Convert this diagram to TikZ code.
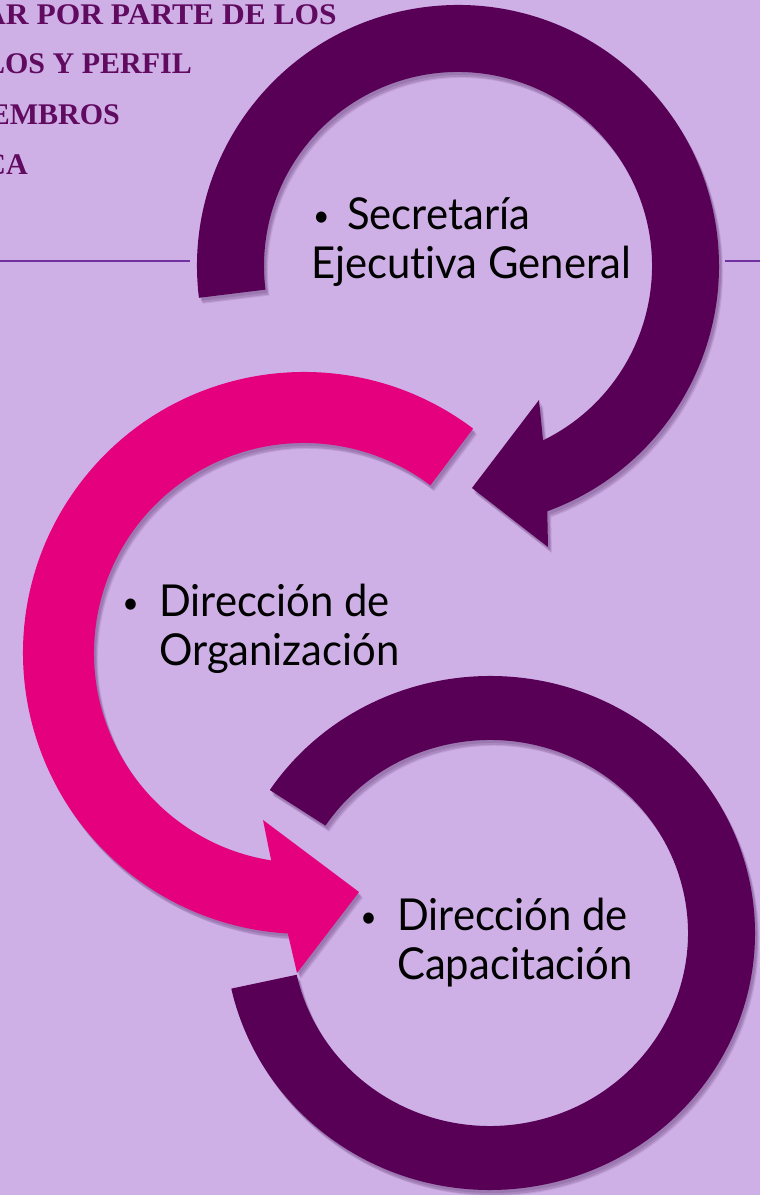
\documentclass[tikz,border=0pt]{standalone}
\usepackage{fontspec}
\usepackage{graphicx}
\usetikzlibrary{calc}
\setmainfont{Lato}[Ligatures=NoCommon]
\newfontfamily\headfont{Liberation Serif}
\definecolor{bgc}{RGB}{207,176,230}
\definecolor{dpurple}{RGB}{88,0,85}
\definecolor{pinkc}{RGB}{229,0,125}
\definecolor{linec}{RGB}{112,48,160}
\definecolor{headc}{RGB}{96,10,96}
\definecolor{shadowc}{RGB}{110,70,130}
\newcommand{\smallbul}{\raisebox{3pt}{\scalebox{0.68}{\textbullet}}}
\newcommand{\bul}{\llap{\makebox[60pt]{\smallbul}}}
\tikzset{
  arcshadow/.style={
    preaction={fill=shadowc, fill opacity=0.25, transform canvas={shift={(2pt,-3pt)}}},
    preaction={fill=shadowc, fill opacity=0.25, transform canvas={shift={(3pt,-5pt)}}},
    preaction={fill=shadowc, fill opacity=0.15, transform canvas={shift={(4pt,-6pt)}}}},
  darcfill/.style={arcshadow, fill=dpurple},
  parcfill/.style={arcshadow, fill=pinkc},
  hline/.style={draw=linec, line width=1.8pt},
  head/.style={anchor=base east, inner sep=0pt, text=headc, font=\headfont\bfseries\fontsize{30}{30}\selectfont},
  lbl/.style={anchor=base west, inner sep=0pt, text=black, font=\fontsize{44}{49}\selectfont}
}
\begin{document}
\begin{tikzpicture}[x=1pt,y=1pt]
\useasboundingbox (0,0) rectangle (760,1195);
\clip (0,0) rectangle (760,1195);
\fill[bgc] (0,0) rectangle (760,1195);
% horizontal rules
\coordinate (l1) at (0,934);
\coordinate (l2) at (190,934);
\coordinate (r1) at (725,934);
\coordinate (r2) at (760,934);
\draw[hline] (l1) -- (l2);
\draw[hline] (r1) -- (r2);
% heading fragments
\node[head] (h1) at (337,1170) {\scalebox{1.05}[1]{AR POR PARTE DE LOS}};
\node[head] (h2) at (192,1121) {LOS Y PERFIL};
\node[head] (h3) at (120,1070) {EMBROS};
\node[head] (h4) at (28,1020) {CA};
% centres
\coordinate (T) at (458,929);
\coordinate (P) at (304,542);
\coordinate (B) at (490,262);
% top arc arrow
\path[darcfill] ($(T)+(187:261pt)$) arc[start angle=187, end angle=-70, radius=261pt]
  -- (548,648) -- (472,707) -- (539,795)
  -- ($(T)+(-64:194pt)$) arc[start angle=-64, end angle=187, radius=194pt] -- cycle;
% pink arc arrow
\path[parcfill] ($(P)+(53:281pt)$) arc[start angle=53, end angle=266.7, radius=281pt]
  -- (297,222) -- (359,303) -- (263,375)
  -- ($(P)+(261:210pt)$) arc[start angle=261, end angle=53, radius=210pt] -- cycle;
% bottom ring
\path[darcfill] ($(B)+({265*cos(146.2)},{257*sin(146.2)})$) arc[start angle=146.2, end angle=-167.5, x radius=265pt, y radius=257pt]
  -- ($(B)+({198*cos(-167.5)},{193*sin(-167.5)})$) arc[start angle=-167.5, end angle=146.2, x radius=198pt, y radius=193pt] -- cycle;
% labels
\node[lbl] (sec) at (311,965) {\scalebox{0.95}[1]{\begin{tabular}[t]{@{}l@{}}\makebox[38pt][l]{\hspace{2pt}\smallbul}Secretaría\\Ejecutiva General\end{tabular}}};
\node[lbl] (org) at (159,578) {\scalebox{0.95}[1]{\begin{tabular}[t]{@{}l@{}}\bul Dirección de\\Organización\end{tabular}}};
\node[lbl] (cap) at (397,264) {\scalebox{0.95}[1]{\begin{tabular}[t]{@{}l@{}}\bul Dirección de\\Capacitación\end{tabular}}};
\end{tikzpicture}
\end{document}
